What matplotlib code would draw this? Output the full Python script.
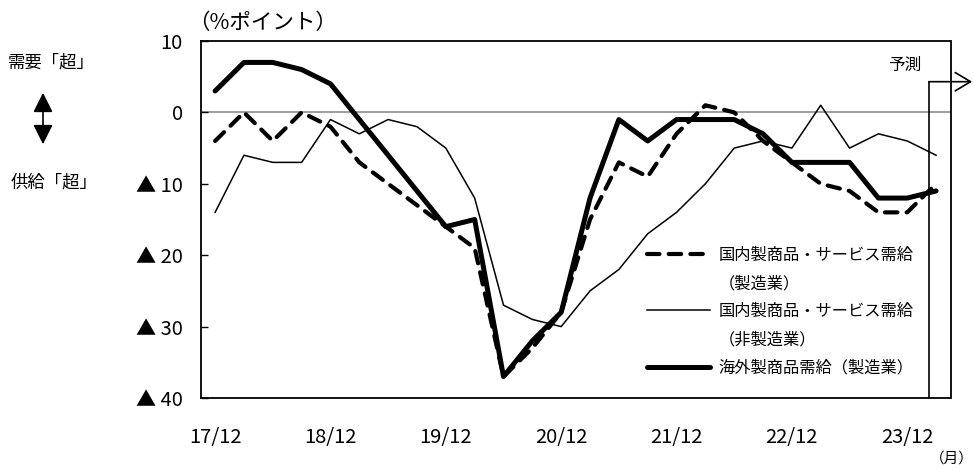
import matplotlib
matplotlib.use('Agg')
import matplotlib.pyplot as plt
from matplotlib.lines import Line2D
from matplotlib.patches import FancyArrowPatch

plt.rcParams['font.family'] = ['Noto Sans CJK JP', 'DejaVu Sans']
plt.rcParams['text.color'] = 'black'

periods = ['17/12', '18/3', '18/6', '18/9', '18/12', '19/3', '19/6', '19/9',
           '19/12', '20/3', '20/6', '20/9', '20/12', '21/3', '21/6', '21/9',
           '21/12', '22/3', '22/6', '22/9', '22/12', '23/3', '23/6', '23/9',
           '23/12', '24/3']
dom_mfg = [-4, 0, -4, 0, -2, -7, -10, -13, -16, -19, -37, -33, -28, -15, -7,
           -9, -3, 1, 0, -4, -7, -10, -11, -14, -14, -10]
dom_nonmfg = [-14, -6, -7, -7, -1, -3, -1, -2, -5, -12, -27, -29, -30, -25,
              -22, -17, -14, -10, -5, -4, -5, 1, -5, -3, -4, -6]
overseas_mfg = [3, 7, 7, 6, 4, -1, -6, -11, -16, -15, -37, -32, -28, -12, -1,
                -4, -1, -1, -1, -3, -7, -7, -7, -12, -12, -11]

label_dom_mfg = ['国内製商品・サービス需給', '（製造業）']
label_dom_nonmfg = ['国内製商品・サービス需給', '（非製造業）']
label_overseas = '海外製商品需給（製造業）'

ytick_values = [10, 0, -10, -20, -30, -40]
ytick_labels = ['10', '0', '▲ 10', '▲ 20', '▲ 30', '▲ 40']
forecast_label = '予測'

W, H = 974, 472
fig = plt.figure(figsize=(W / 100, H / 100), dpi=100)
ax = fig.add_axes([200.7 / W, 1 - 398 / H, (950.5 - 200.7) / W, (398 - 41) / H])

x = list(range(len(periods)))
ax.axhline(0, color='#8c8c8c', lw=1.2, zorder=1)
l_thin, = ax.plot(x, dom_nonmfg, color='black', lw=1.1, zorder=3)
l_dash, = ax.plot(x, dom_mfg, color='black', lw=3.0, dashes=(3.0, 2.2),
                  dash_capstyle='round', zorder=4)
l_thick, = ax.plot(x, overseas_mfg, color='black', lw=3.6,
                   solid_joinstyle='round', solid_capstyle='round', zorder=5)

ax.set_xlim(-0.5, len(periods) - 0.5)
ax.set_ylim(-40, 10)
xt = [i for i, p in enumerate(periods) if p.endswith('/12')]
ax.set_xticks(xt)
ax.set_xticklabels([periods[i] for i in xt], fontsize=14.5)
ax.set_yticks(ytick_values)
ax.set_yticklabels(ytick_labels, fontsize=14.5)
ax.tick_params(axis='x', length=0, pad=21)
ax.tick_params(axis='y', direction='in', length=5, width=1.0, pad=13)
for s in ax.spines.values():
    s.set_linewidth(1.3)
    s.set_color('black')

# forecast box
ax.axvline(24.75, ymin=0, ymax=(4.3 + 40) / 50, color='black', lw=1.2, zorder=2)
ax.annotate('', xy=(26.25, 4.3), xytext=(24.75, 4.3),
            arrowprops=dict(arrowstyle='->,head_length=1.0,head_width=0.6',
                            lw=1.2, color='black', shrinkA=0, shrinkB=0,
                            mutation_scale=11),
            annotation_clip=False)
ax.text(23.9, 6.6, forecast_label, ha='center', va='center', fontsize=12)

# legend
blank = Line2D([], [], color='none')
handles = [l_dash, blank, l_thin, blank, l_thick]
labels = [label_dom_mfg[0], label_dom_mfg[1], label_dom_nonmfg[0],
          label_dom_nonmfg[1], label_overseas]
ax.legend(handles, labels, loc='upper left',
          bbox_to_anchor=(647 / W, 1 - 247 / H), bbox_transform=fig.transFigure,
          frameon=False, fontsize=11.7, handlelength=3.9, handletextpad=0.5,
          borderpad=0, borderaxespad=0, labelspacing=0.68)

# outer texts
fig.text(263 / W, 1 - 23 / H, '（%ポイント）', ha='center', va='center', fontsize=15.5)
fig.text(51 / W, 1 - 63 / H, '需要「超」', ha='center', va='center', fontsize=12.5)
fig.text(54 / W, 1 - 183 / H, '供給「超」', ha='center', va='center', fontsize=12.5)
fig.text(952 / W, 1 - 459 / H, '（月）', ha='center', va='center', fontsize=10.5)
arr = FancyArrowPatch((43 / W, 1 - 90 / H), (43 / W, 1 - 147 / H),
                      transform=fig.transFigure,
                      arrowstyle='<|-|>,head_length=1.2,head_width=0.6',
                      mutation_scale=10, lw=1.2, color='black')
fig.patches.append(arr)

fig.savefig('out.png', dpi=100)
